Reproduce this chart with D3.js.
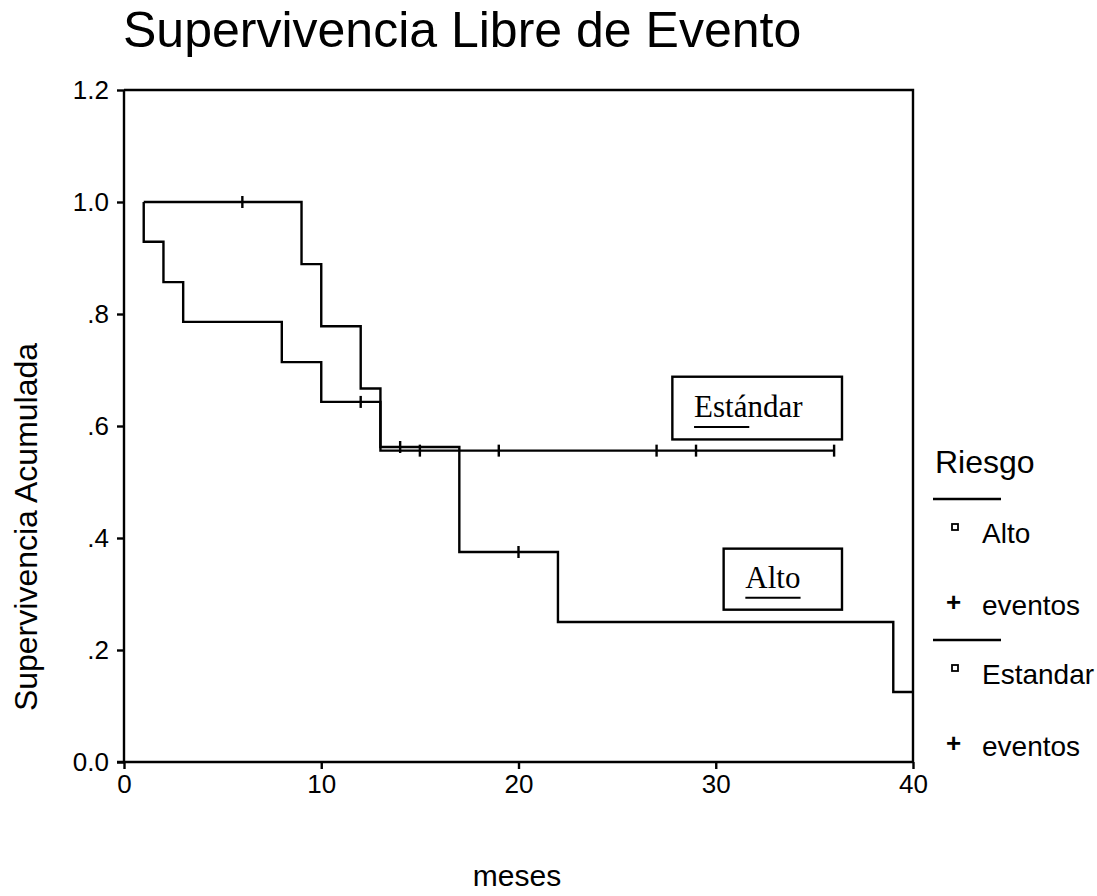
<!DOCTYPE html>
<html>
<head>
<meta charset="utf-8">
<script src="https://cdn.jsdelivr.net/npm/d3@7"></script>
<style>
  body { margin: 0; background: #fff; }
  svg { font-family: "Liberation Sans", Arial, sans-serif; }
  text { fill: #000; }
</style>
</head>
<body>
<svg width="1097" height="896"></svg>
<script>
// Kaplan-Meier steps (months, cumulative survival)
const altoTimes = [1, 1, 2, 3, 8, 10, 13, 17, 22, 39, 40];
const altoSurv  = [1, 0.929, 0.857, 0.786, 0.714, 0.643, 0.5625, 0.375, 0.25, 0.125, 0.125];
const altoCensored = [12, 14, 20];

const estTimes = [1, 9, 10, 12, 13, 36];
const estSurv  = [1, 0.889, 0.778, 0.667, 0.556, 0.556];
const estCensored = [6, 15, 19, 27, 29, 36];

const xTicks = [0, 10, 20, 30, 40];
const yTicks = [0, 0.2, 0.4, 0.6, 0.8, 1.0, 1.2];
const yTickLabels = ['0.0', '.2', '.4', '.6', '.8', '1.0', '1.2'];

const legendItems = ['Alto', 'Estandar'];

const svg = d3.select('svg');
const lw = 2.4; // line width used everywhere

const x = d3.scaleLinear().domain([0, 40]).range([124, 913]);
const y = d3.scaleLinear().domain([0, 1.2]).range([762, 90]);

// title
svg.append('text')
    .attr('x', 123).attr('y', 47)
    .attr('font-size', 50)
    .text('Supervivencia Libre de Evento');

// frame (top + right)
svg.append('path')
    .attr('d', `M${x(0)},${y(1.2)}H${x(40)}V${y(0)}`)
    .attr('fill', 'none').attr('stroke', '#000').attr('stroke-width', lw);

// axes
const yAxis = svg.append('g')
    .attr('transform', `translate(${x(0)},0)`)
    .call(d3.axisLeft(y).tickValues(yTicks).tickSize(7).tickPadding(8)
        .tickFormat((d, i) => yTickLabels[i]));
const xAxis = svg.append('g')
    .attr('transform', `translate(0,${y(0)})`)
    .call(d3.axisBottom(x).tickValues(xTicks).tickSize(7).tickPadding(6));

[xAxis, yAxis].forEach(g => {
  g.attr('font-family', null).attr('font-size', 26);
  g.selectAll('.tick line').attr('stroke-width', lw);
  g.select('.domain').attr('stroke-width', lw);
});
yAxis.select('.domain').attr('d', `M0,${y(1.2)}V${y(0)}`);
xAxis.select('.domain').attr('d', `M${x(0) - 7},0H${x(40)}`);

// axis titles
svg.append('text')
    .attr('transform', `translate(37,527) rotate(-90)`)
    .attr('text-anchor', 'middle')
    .attr('font-size', 32)
    .text('Supervivencia Acumulada');
svg.append('text')
    .attr('x', 517).attr('y', 886)
    .attr('text-anchor', 'middle')
    .attr('font-size', 30)
    .text('meses');

// curves
const stepLine = d3.line()
    .x(d => x(d[0])).y(d => y(d[1]))
    .curve(d3.curveStepAfter);

function survAt(times, surv, t) {
  let s = surv[0];
  times.forEach((tt, i) => { if (tt <= t) s = surv[i]; });
  return s;
}

const series = [
  { times: altoTimes, surv: altoSurv, cens: altoCensored },
  { times: estTimes, surv: estSurv, cens: estCensored }
];

series.forEach(s => {
  svg.append('path')
      .datum(d3.zip(s.times, s.surv))
      .attr('d', stepLine)
      .attr('fill', 'none').attr('stroke', '#000').attr('stroke-width', lw);
  svg.selectAll(null)
      .data(s.cens)
      .enter().append('line')
      .attr('x1', d => x(d)).attr('x2', d => x(d))
      .attr('y1', d => y(survAt(s.times, s.surv, d)) - 6)
      .attr('y2', d => y(survAt(s.times, s.surv, d)) + 6)
      .attr('stroke', '#000').attr('stroke-width', lw);
});

// boxed labels on the plot
const boxes = [
  { label: 'Estándar', x0: 27.8, x1: 36.4, y0: 0.688, y1: 0.576, tx: 28.9, ty: 0.616, ul: 2.8 },
  { label: 'Alto', x0: 30.4, x1: 36.4, y0: 0.381, y1: 0.272, tx: 31.5, ty: 0.311, ul: 2.8 }
];
boxes.forEach(b => {
  svg.append('rect')
      .attr('x', x(b.x0)).attr('y', y(b.y0))
      .attr('width', x(b.x1) - x(b.x0)).attr('height', y(b.y1) - y(b.y0))
      .attr('fill', '#fff').attr('stroke', '#000').attr('stroke-width', lw);
  svg.append('text')
      .attr('x', x(b.tx)).attr('y', y(b.ty))
      .style('font-family', '"Liberation Serif", "Times New Roman", serif')
      .attr('font-size', 31)
      .text(b.label);
  svg.append('line')
      .attr('x1', x(b.tx)).attr('x2', x(b.tx + b.ul))
      .attr('y1', y(b.ty) + 10).attr('y2', y(b.ty) + 10)
      .attr('stroke', '#000').attr('stroke-width', 2);
});

// legend
const legend = svg.append('g');
legend.append('text')
    .attr('x', 935).attr('y', 473)
    .attr('font-size', 32)
    .text('Riesgo');
legendItems.forEach((name, i) => {
  const top = 499 + i * 141;
  legend.append('line')
      .attr('x1', 933).attr('x2', 1001)
      .attr('y1', top).attr('y2', top)
      .attr('stroke', '#000').attr('stroke-width', lw);
  legend.append('rect')
      .attr('x', 952).attr('y', top + 25)
      .attr('width', 6).attr('height', 6)
      .attr('fill', 'none').attr('stroke', '#000').attr('stroke-width', 1.8);
  legend.append('text')
      .attr('x', 982).attr('y', top + 44)
      .attr('font-size', 28)
      .text(name);
  legend.append('text')
      .attr('x', 946).attr('y', top + 112)
      .attr('font-size', 26)
      .attr('font-weight', 'bold')
      .text('+');
  legend.append('text')
      .attr('x', 982).attr('y', top + 116)
      .attr('font-size', 28)
      .text('eventos');
});
</script>
</body>
</html>
